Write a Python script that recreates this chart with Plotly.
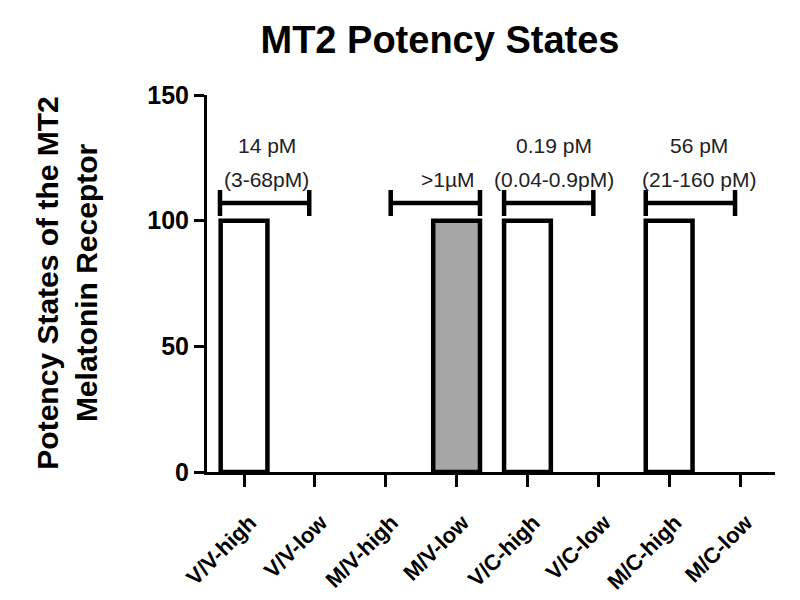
import plotly.graph_objects as go

categories = ["V/V-high", "V/V-low", "M/V-high", "M/V-low", "V/C-high", "V/C-low", "M/C-high", "M/C-low"]
values = [100, 0, 0, 100, 100, 0, 100, 0]
bar_colors = ["white", "white", "white", "#a6a6a6", "white", "white", "white", "white"]

# potency range brackets (center position in category units, half-width, height)
bracket_centers = [0.29, 2.70, 4.30, 6.30]
bracket_halfwidths = [0.63, 0.63, 0.63, 0.63]
bracket_y = [107, 107, 107, 107]

label_top = ["14 pM", "", "0.19 pM", "56 pM"]
label_bottom = ["(3-68pM)", ">1\u00b5M", "(0.04-0.9pM)", "(21-160 pM)"]
label_x = [0.32, 2.88, 4.38, 6.42]
label_top_y = [130, 130, 130, 130]
label_bottom_y = [116.5, 116.5, 116.5, 116.5]

FONT = "Arial, Liberation Sans, sans-serif"

fig = go.Figure()
fig.add_trace(go.Bar(
    x=list(range(len(categories))), y=values,
    marker=dict(color=bar_colors,
                line=dict(color="black", width=[4.5 if v > 0 else 0 for v in values])),
    width=0.66, showlegend=False,
))
fig.add_trace(go.Scatter(
    x=bracket_centers, y=bracket_y, mode="markers",
    marker=dict(size=1, color="rgba(0,0,0,0)"),
    error_x=dict(type="data", array=bracket_halfwidths, symmetric=True,
                 color="black", thickness=4.5, width=13),
    showlegend=False, hoverinfo="skip",
))

for x, t, b, ty, by in zip(label_x, label_top, label_bottom, label_top_y, label_bottom_y):
    if t:
        fig.add_annotation(x=x, y=ty, text=t, showarrow=False,
                           font=dict(family=FONT, size=21, color="#222"))
    fig.add_annotation(x=x, y=by, text=b, showarrow=False,
                       font=dict(family=FONT, size=21, color="#222"))

fig.add_annotation(
    text="Potency States of the MT2<br>Melatonin Receptor",
    xref="paper", yref="paper", x=-0.248, y=0.5, xanchor="center", yanchor="middle",
    textangle=-90, showarrow=False, align="center",
    font=dict(family=FONT, size=30, color="black", weight="bold"),
)

fig.update_layout(
    width=800, height=600,
    margin=dict(l=199, r=33, t=87, b=136),
    paper_bgcolor="white", plot_bgcolor="white",
    title=dict(text="MT2 Potency States", x=0.54, xref="container", xanchor="center",
               y=0.948, yref="container", yanchor="middle",
               font=dict(family=FONT, size=38, color="black", weight="bold")),
    xaxis=dict(range=[-0.523, 7.494], tickvals=list(range(len(categories))), ticktext=categories,
               tickangle=-45, showline=True, linecolor="black", linewidth=3,
               ticks="outside", ticklen=12, tickwidth=3, tickcolor="black",
               ticklabelstandoff=14, ticklabelshift=6,
               showgrid=False, zeroline=False,
               tickfont=dict(family=FONT, size=22, color="black", weight="bold")),
    yaxis=dict(range=[0, 150], tickvals=[0, 50, 100, 150],
               showline=True, linecolor="black", linewidth=3,
               ticks="outside", ticklen=10, tickwidth=2.5, tickcolor="black",
               showgrid=False, zeroline=False,
               tickfont=dict(family=FONT, size=25, color="black", weight="bold")),
)

fig.write_html("out.html")
